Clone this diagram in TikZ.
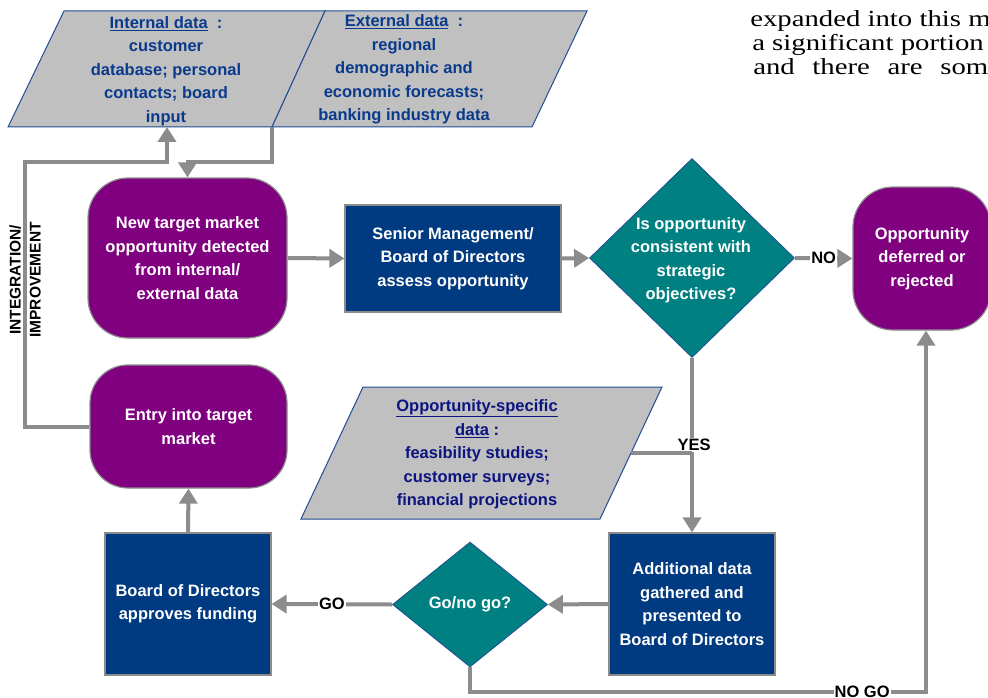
\documentclass[tikz,border=0pt]{standalone}
\usepackage{fontspec}
\setmainfont{Liberation Sans}
\newfontfamily\seriffont{Liberation Serif}
\usetikzlibrary{arrows.meta,shapes.geometric}
\definecolor{purp}{HTML}{800080}
\definecolor{navy}{HTML}{003A80}
\definecolor{tealc}{HTML}{008080}
\definecolor{paragray}{HTML}{C0C0C0}
\definecolor{linegray}{HTML}{8C8C8C}
\definecolor{edgeblue}{HTML}{1F4E96}
\definecolor{datatext}{HTML}{0A3A8C}
\definecolor{datatexttwo}{HTML}{0C1480}
\begin{document}
\begin{tikzpicture}[x=1pt,y=-1pt,
  txt/.style={font=\fontsize{16.5}{23.5}\selectfont\bfseries, align=center},
  wtxt/.style={txt, text=white},
  term/.style={wtxt, fill=purp, draw=linegray, line width=1.2pt, rounded corners=40pt, inner sep=0pt},
  proc/.style={wtxt, fill=navy, draw=linegray, line width=1.2pt, inner sep=0pt},
  dec/.style={diamond, fill=tealc, draw=edgeblue, line width=0.8pt, inner sep=0pt},
  datashape/.style={fill=paragray, draw=edgeblue, line width=1pt},
  ln/.style={draw=linegray, line width=4pt},
  arr/.style={ln, -{Triangle[width=18pt,length=15pt]}},
  lbl/.style={font=\fontsize{16.5}{18}\selectfont\bfseries, fill=white, inner sep=1pt},
  bodytext/.style={font=\seriffont\fontsize{23}{24}\selectfont, anchor=base west, xscale=1.25, inner sep=0pt},
]
\useasboundingbox (0,0) rectangle (988,698);
\fill[white] (0,0) rectangle (988,698);

% data parallelograms
\path[datashape] (64,11) -- (325,11) -- (272,127) -- (8,127) -- cycle;
\path[datashape] (325,11) -- (587,11) -- (532,127) -- (272,127) -- cycle;
\path[datashape] (363,387) -- (662,387) -- (600,519) -- (301,519) -- cycle;
\node[txt, text=datatext] (intd) at (166,71) {\underline{Internal data}\ \ :\\customer\\database; personal\\contacts; board\\input};
\node[txt, text=datatext] (extd) at (404,69.5) {\underline{External data}\ \ :\\regional\\demographic and\\economic forecasts;\\banking industry data};
\node[txt, text=datatexttwo] (oppd) at (477,454.5) {\underline{Opportunity-specific}\\\underline{data} :\\feasibility studies;\\customer surveys;\\financial projections};
\coordinate (intB) at (167,127);
\coordinate (extB) at (272,127);
\coordinate (oppR) at (631,453);

% process nodes
\node[term, minimum width=199pt, minimum height=160pt] (newt) at (187.5,258) {New target market\\opportunity detected\\from internal/\\external data};
\node[proc, minimum width=216pt, minimum height=107pt] (senior) at (453,258.5) {Senior Management/\\Board of Directors\\assess opportunity};
\node[dec, minimum width=205pt, minimum height=199pt] (d1) at (692,258) {};
\node[wtxt] (d1t) at (691,260) {Is opportunity\\consistent with\\strategic\\objectives?};
\node[term, minimum width=138pt, minimum height=143pt] (opp) at (922,258.5) {Opportunity\\deferred or\\rejected};
\node[term, minimum width=197pt, minimum height=123pt, rounded corners=38pt] (entry) at (188.5,426.5) {Entry into target\\market};
\node[proc, minimum width=166pt, minimum height=142pt] (board) at (188,604) {Board of Directors\\approves funding};
\node[proc, minimum width=166pt, minimum height=142pt] (addl) at (692,604) {Additional data\\gathered and\\presented to\\Board of Directors};
\node[dec, minimum width=155pt, minimum height=125pt] (d2) at (470,604.5) {};
\node[wtxt] (d2t) at (470,604.5) {Go/no go?};

% side label
\node[font=\fontsize{15.5}{20}\selectfont\bfseries, rotate=90, align=center] (integ) at (25,280) {INTEGRATION/\\IMPROVEMENT};

% connectors
\draw[arr] (entry.west) -| (25,162) -| (intB);
\draw[arr] (extB) -- (272,162) -| (newt.north);
\draw[arr] (newt.east) -- (senior.west);
\draw[arr] (senior.east) -- (d1.west);
\draw[arr] (d1.east) -- node[lbl] (nol) {NO} (opp.west);
\draw[arr] (d1.south) -- node[lbl, xshift=2pt] (yesl) {YES} (addl.north);
\draw[arr] (addl.west) -- (d2.east);
\draw[arr] (d2.west) -- node[lbl] (gol) {GO} (board.east);
\draw[arr] (board.north) -- (entry.south);
\draw[arr] (d2.south) -- (470,692) -| node[lbl, pos=0.43] (nogol) {NO GO} ([xshift=4pt]opp.south);
\draw[ln] (oppR) -- (oppR -| addl.north);

% body text of the page behind
\node[bodytext] (s1) at (750,27) {expanded into this m};
\node[bodytext] (s2) at (752,51) {a significant portion};
\node[bodytext] (s3) at (753,75) {\makebox[188pt][s]{and there are som}};
\end{tikzpicture}
\end{document}
